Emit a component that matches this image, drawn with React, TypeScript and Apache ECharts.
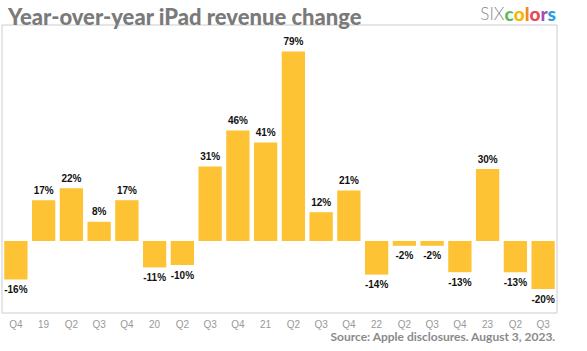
import React, { useEffect, useRef } from "react";
import * as echarts from "echarts";

const categories = ["Q4", "19", "Q2", "Q3", "Q4", "20", "Q2", "Q3", "Q4", "21", "Q2", "Q3", "Q4", "22", "Q2", "Q3", "Q4", "23", "Q2", "Q3"];
const values = [-16, 17, 22, 8, 17, -11, -10, 31, 46, 41, 79, 12, 21, -14, -2, -2, -13, 30, -13, -20];
const titleText = "Year-over-year iPad revenue change";
const sourceText = "Source: Apple disclosures. August 3, 2023.";

export default function App() {
  const ref = useRef<HTMLDivElement>(null);
  useEffect(() => {
    const chart = echarts.init(ref.current!, null, { renderer: "svg" });
    chart.setOption({
      animation: false,
      title: {
        text: titleText,
        left: 3,
        top: 0,
        textStyle: { fontFamily: "Lato", fontWeight: 900, fontSize: 22, color: "#7a7a7a" },
      },
      graphic: [
        {
          type: "text",
          right: 31,
          top: 4,
          style: {
            text: "{s|SIX}{c|c}{o|o}{l|l}{o2|o}{r|r}{x|s}",
            rich: {
              s: { fontFamily: "Lato", fontWeight: 300, fontSize: 17, fill: "#8a8a8a" },
              c: { fontFamily: "Lato", fontWeight: 900, fontSize: 19, fill: "#5cb85c" },
              o: { fontFamily: "Lato", fontWeight: 900, fontSize: 19, fill: "#f5b700" },
              l: { fontFamily: "Lato", fontWeight: 900, fontSize: 19, fill: "#f08a24" },
              o2: { fontFamily: "Lato", fontWeight: 900, fontSize: 19, fill: "#e8474c" },
              r: { fontFamily: "Lato", fontWeight: 900, fontSize: 19, fill: "#a051b8" },
              x: { fontFamily: "Lato", fontWeight: 900, fontSize: 19, fill: "#2f9be0" },
            },
          },
        },
        {
          type: "text",
          right: 31,
          top: 330,
          style: {
            text: sourceText,
            fontFamily: "Lato",
            fontWeight: 700,
            fontSize: 12,
            fill: "#8a8a8a",
          },
        },
      ],
      grid: {
        left: 2,
        right: 30,
        top: 25,
        bottom: 38,
        show: true,
        borderColor: "#cccccc",
        borderWidth: 1,
        containLabel: false,
      },
      xAxis: {
        type: "category",
        data: categories,
        axisLine: { show: false },
        axisTick: { show: false },
        axisLabel: { color: "#999999", fontFamily: "Liberation Sans", fontSize: 10, margin: 6, interval: 0 },
      },
      yAxis: {
        type: "value",
        min: -30,
        max: 90,
        show: false,
        splitLine: { show: false },
      },
      series: [
        {
          type: "bar",
          data: values.map((v) => ({
            value: v,
            label: { position: v >= 0 ? "top" : "bottom" },
          })),
          barCategoryGap: "16%",
          itemStyle: { color: "#fec235" },
          label: {
            show: true,
            formatter: (p: any) => p.value + "%",
            color: "#111111",
            fontFamily: "Liberation Sans",
            fontWeight: "bold",
            fontSize: 10,
            distance: 5,
          },
        },
      ],
    });
    return () => chart.dispose();
  }, []);
  return <div ref={ref} style={{ width: 587, height: 351, position: "absolute", left: 0, top: 0 }} />;
}
